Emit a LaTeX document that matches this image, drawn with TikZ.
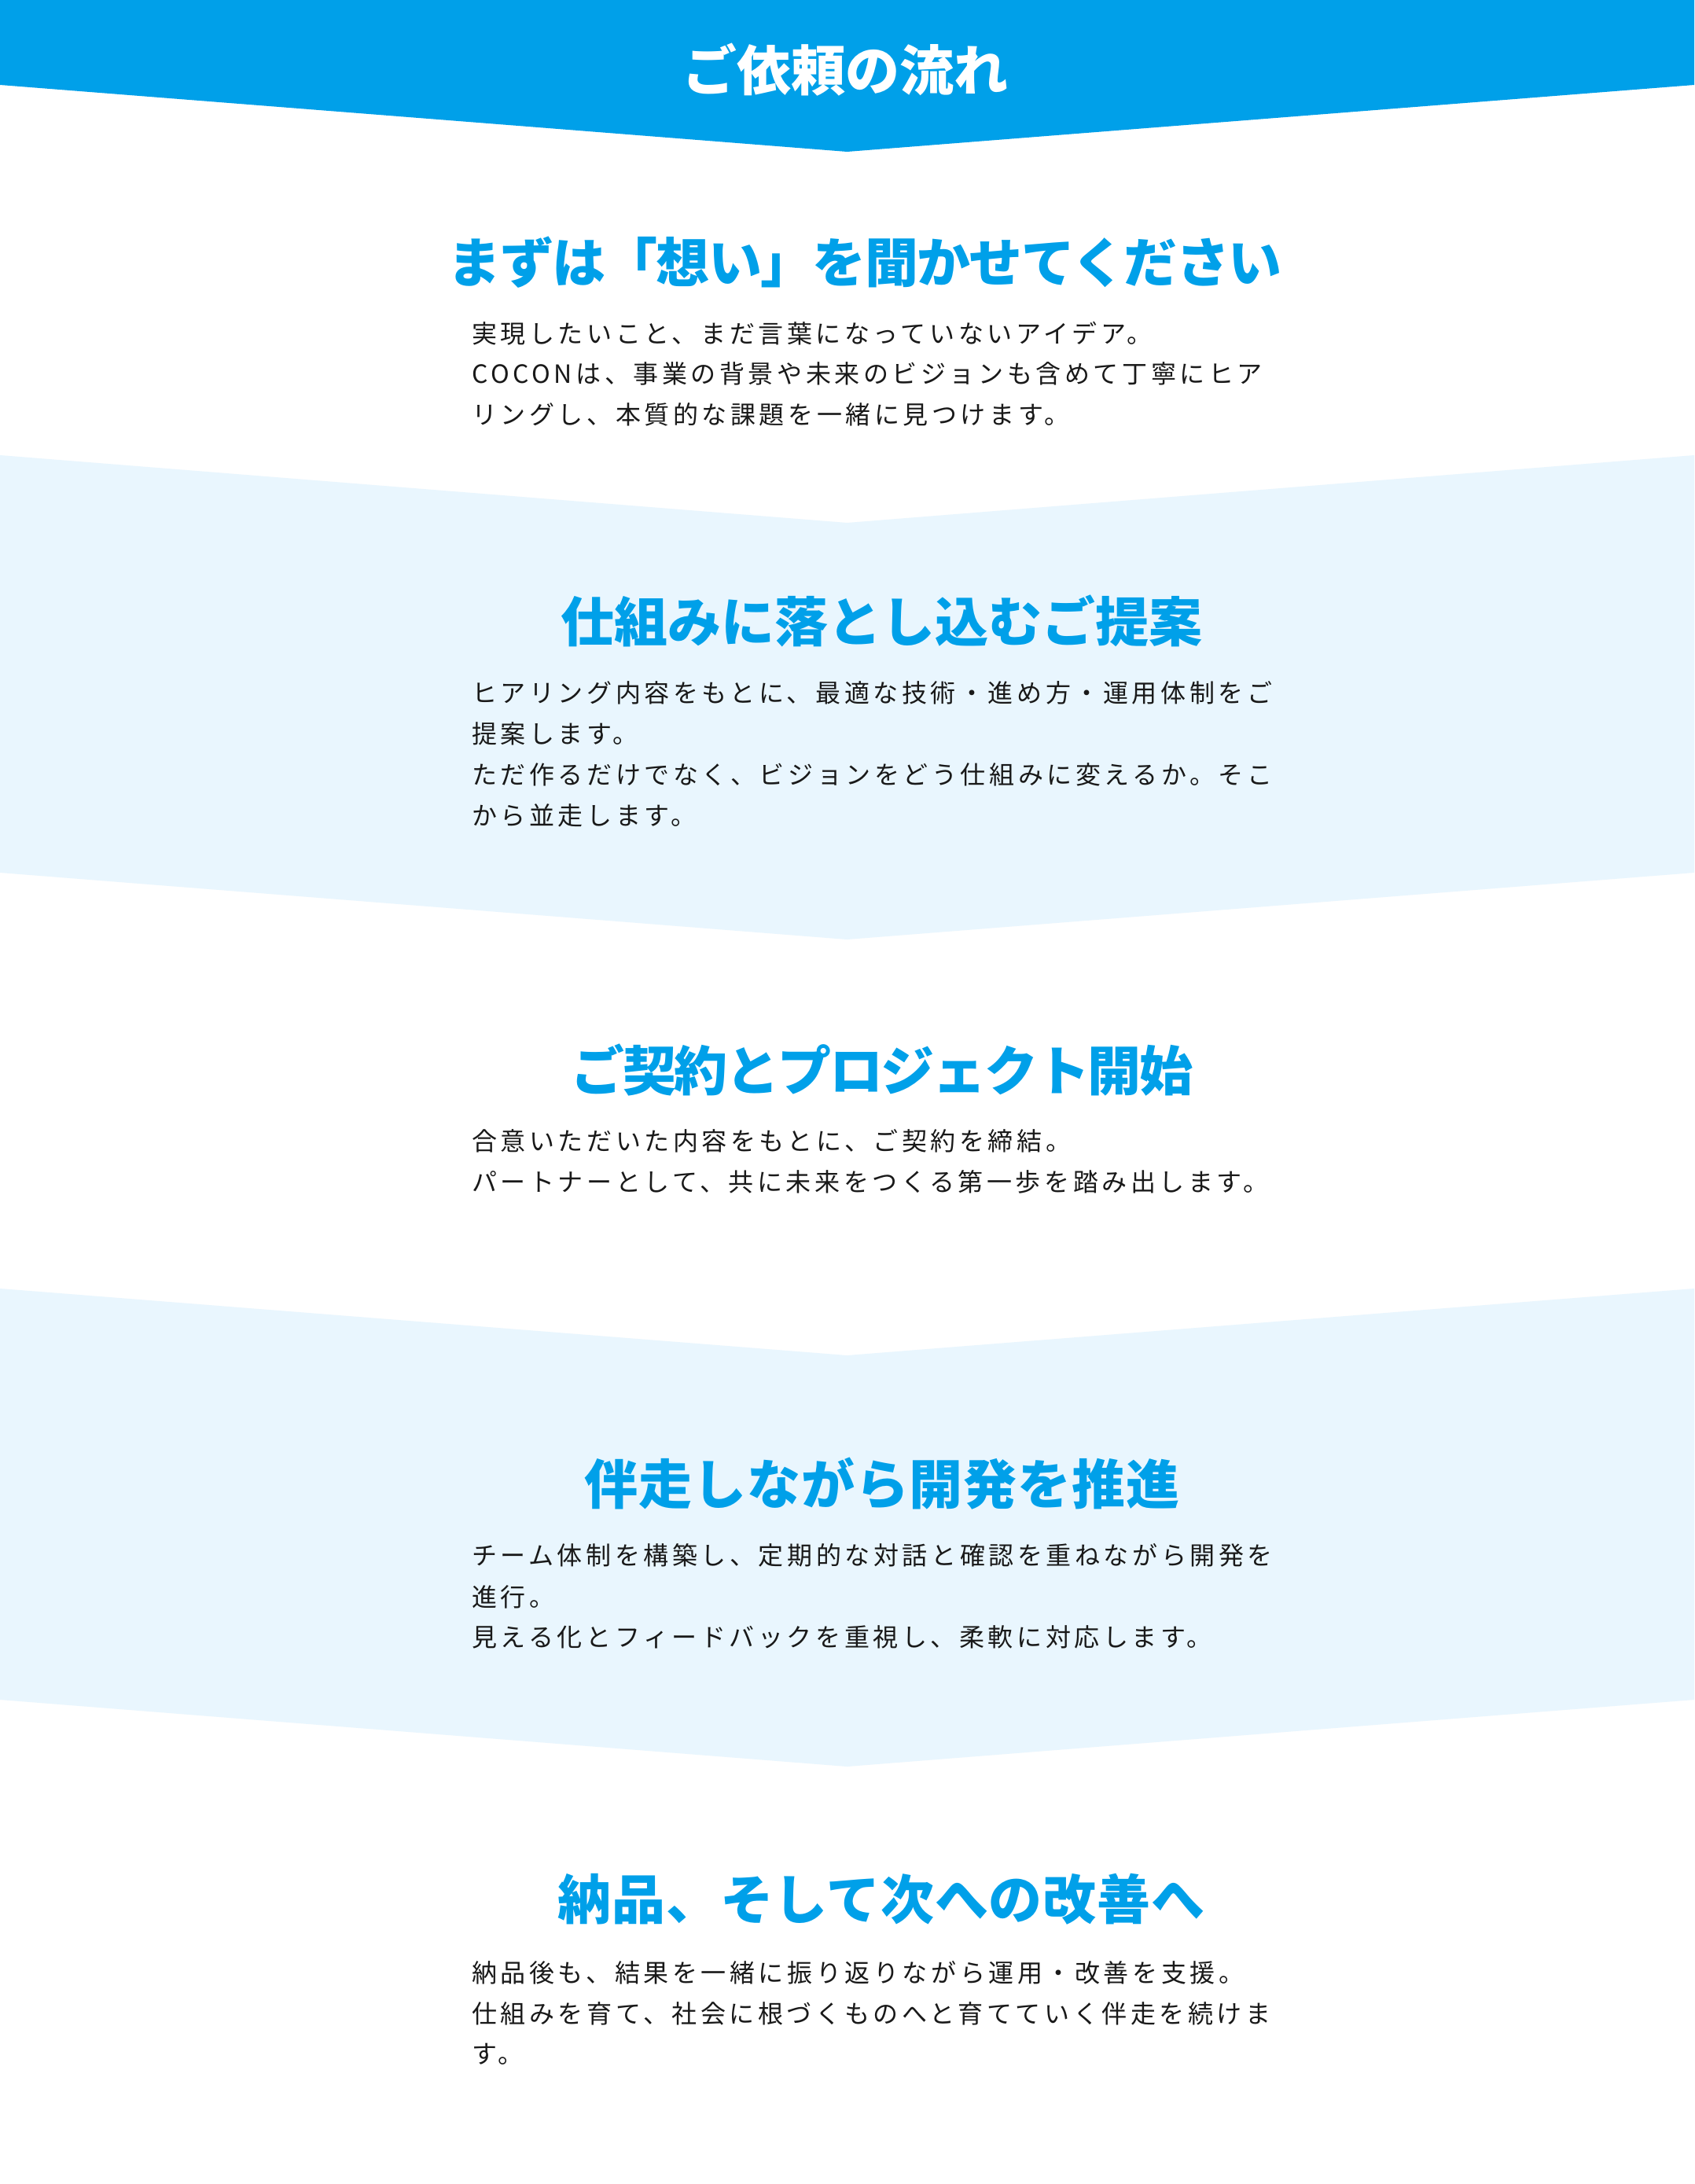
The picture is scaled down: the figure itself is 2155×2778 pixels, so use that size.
\documentclass[tikz,border=0pt]{standalone}
\usepackage{fontspec}
\newfontfamily\jp{Noto Sans CJK JP}
\newfontfamily\jpbody{Noto Sans CJK JP}[LetterSpace=14.3]
\definecolor{hdrblue}{RGB}{0,160,233}
\definecolor{bandblue}{RGB}{233,246,254}
\definecolor{bodytxt}{RGB}{25,25,25}
\tikzset{
  headtitle/.style={font=\jp\bfseries\fontsize{69}{69}\selectfont, text=white, inner sep=0pt, anchor=base},
  sectitle/.style={font=\jp\bfseries\fontsize{68}{68}\selectfont\addfontfeature{LetterSpace=#1}, text=hdrblue, inner sep=0pt, anchor=base},
  sectitle/.default=0,
  bodyline/.style={font=\jpbody\fontsize{32}{32}\selectfont, text=bodytxt, inner sep=0pt, anchor=base west},
}
\begin{document}
\begin{tikzpicture}[x=1pt,y=-1pt]
\useasboundingbox (0,0) rectangle (2155,2778);
\fill[white] (0,0) rectangle (2155,2778);
% header chevron
\fill[hdrblue] (0,0) -- (2155,0) -- (2155,108) -- (1077.5,193) -- (0,108) -- cycle;
% light bands
\fill[bandblue] (0,579) -- (1077.5,665) -- (2155,579) -- (2155,1110) -- (1077.5,1195) -- (0,1110) -- cycle;
\fill[bandblue] (0,1639) -- (1077.5,1724) -- (2155,1639) -- (2155,2162) -- (1077.5,2247) -- (0,2162) -- cycle;

\node[headtitle] (head) at (1075,115) {ご依頼の流れ};

% section 1
\node[sectitle=-2.5] (t1) at (1100,359) {まずは「想い」を聞かせてください};
\node[bodyline] (b1a) at (600,436) {実現したいこと、まだ言葉になっていないアイデア。};
\node[bodyline] (b1b) at (600,487) {COCONは、事業の背景や未来のビジョンも含めて丁寧にヒア};
\node[bodyline] (b1c) at (600,539) {リングし、本質的な課題を一緒に見つけます。};

% section 2
\node[sectitle] (t2) at (1121,816) {仕組みに落とし込むご提案};
\node[bodyline] (b2a) at (600,893) {ヒアリング内容をもとに、最適な技術・進め方・運用体制をご};
\node[bodyline] (b2b) at (600,945) {提案します。};
\node[bodyline] (b2c) at (600,997) {ただ作るだけでなく、ビジョンをどう仕組みに変えるか。そこ};
\node[bodyline] (b2d) at (600,1049) {から並走します。};

% section 3
\node[sectitle=-3.3] (t3) at (1122,1387) {ご契約とプロジェクト開始};
\node[bodyline] (b3a) at (600,1463) {合意いただいた内容をもとに、ご契約を締結。};
\node[bodyline] (b3b) at (600,1515) {パートナーとして、共に未来をつくる第一歩を踏み出します。};

% section 4
\node[sectitle=1.2] (t4) at (1122,1913) {伴走しながら開発を推進};
\node[bodyline] (b4a) at (600,1990) {チーム体制を構築し、定期的な対話と確認を重ねながら開発を};
\node[bodyline] (b4b) at (600,2043) {進行。};
\node[bodyline] (b4c) at (600,2094) {見える化とフィードバックを重視し、柔軟に対応します。};

% section 5
\node[sectitle=1.1] (t5) at (1121,2441) {納品、そして次への改善へ};
\node[bodyline] (b5a) at (600,2521) {納品後も、結果を一緒に振り返りながら運用・改善を支援。};
\node[bodyline] (b5b) at (600,2573) {仕組みを育て、社会に根づくものへと育てていく伴走を続けま};
\node[bodyline] (b5c) at (600,2624) {す。};
\end{tikzpicture}
\end{document}
